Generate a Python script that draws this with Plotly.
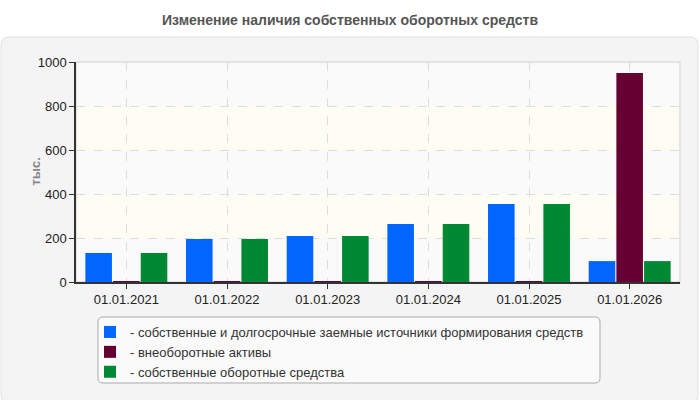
import plotly.graph_objects as go

categories = ["01.01.2021", "01.01.2022", "01.01.2023", "01.01.2024", "01.01.2025", "01.01.2026"]
own_longterm = [132, 195, 209, 264, 355, 95]
noncurrent = [4, 4, 4, 4, 4, 950]
own_working = [132, 195, 209, 264, 355, 95]
series_names = [
    "- собственные и долгосрочные заемные источники формирования средств",
    "- внеоборотные активы",
    "- собственные оборотные средства",
]
colors = ["#0066ff", "#660033", "#008833"]

W, H = 700, 400
L, R, T, B = 76, 680, 62, 282
pw, ph = R - L, B - T


def px2x(px):
    return (px - L) / pw


def py2y(py):
    return (B - py) / ph


def rrect(x0, y0, x1, y1, r):
    # pixel coords -> paper path with rounded corners
    def P(x, y):
        return f"{px2x(x):.5f},{py2y(y):.5f}"
    return (f"M {P(x0 + r, y0)} L {P(x1 - r, y0)} Q {P(x1, y0)} {P(x1, y0 + r)} "
            f"L {P(x1, y1 - r)} Q {P(x1, y1)} {P(x1 - r, y1)} L {P(x0 + r, y1)} "
            f"Q {P(x0, y1)} {P(x0, y1 - r)} L {P(x0, y0 + r)} Q {P(x0, y0)} {P(x0 + r, y0)} Z")


fig = go.Figure()
for name, vals, c in zip(series_names, [own_longterm, noncurrent, own_working], colors):
    fig.add_trace(go.Bar(x=categories, y=vals, name=name, marker=dict(color=c, line=dict(width=0))))

shapes = [
    dict(type="path", xref="paper", yref="paper", path=rrect(1, 37, 698, 403, 8),
         fillcolor="#f4f4f4", line=dict(color="#e2e2e2", width=1), layer="below"),
    dict(type="rect", xref="paper", yref="paper", x0=0, x1=1, y0=0, y1=1,
         fillcolor="#fafafa", line=dict(width=0), layer="below"),
    dict(type="rect", xref="paper", yref="y", x0=0, x1=1, y0=200, y1=400,
         fillcolor="#fdfdf4", line=dict(width=0), layer="below"),
    dict(type="rect", xref="paper", yref="y", x0=0, x1=1, y0=600, y1=800,
         fillcolor="#fdfdf4", line=dict(width=0), layer="below"),
    dict(type="rect", xref="paper", yref="paper", x0=0, x1=1, y0=0, y1=1,
         fillcolor="rgba(0,0,0,0)", line=dict(color="#dddddd", width=1.5), layer="below"),
    dict(type="path", xref="paper", yref="paper", path=rrect(98, 317, 600, 383, 5),
         fillcolor="#fafafa", line=dict(color="#aaaaaa", width=1), layer="below"),
]

fig.update_layout(
    width=W, height=H,
    margin=dict(l=L, r=W - R, t=T, b=H - B),
    paper_bgcolor="white",
    plot_bgcolor="rgba(0,0,0,0)",
    font=dict(family="Liberation Sans, Arial, sans-serif", size=13, color="#222222"),
    title=dict(text="<b>Изменение наличия собственных оборотных средств</b>",
               x=0.5, xanchor="center", y=1 - 20 / H, yanchor="middle",
               font=dict(size=14, color="#555555")),
    barmode="group", bargap=0.175, bargroupgap=0.04,
    showlegend=True,
    legend=dict(x=px2x(90), xanchor="left", y=py2y(317), yanchor="top",
                bgcolor="rgba(0,0,0,0)", borderwidth=0,
                font=dict(size=13, color="#333333"), tracegroupgap=0,
                itemsizing="constant"),
    shapes=shapes,
    annotations=[dict(text="<b>тыс.</b>", xref="paper", yref="paper", x=px2x(25), y=0.5,
                      textangle=-90, showarrow=False, font=dict(size=13, color="#888888"))],
)
fig.update_xaxes(showline=True, linecolor="#333333", linewidth=1.5, ticks="outside",
                 ticklen=5, tickcolor="#333333", showgrid=True, gridcolor="#dddddd",
                 griddash="dash", gridwidth=1, tickfont=dict(size=13, color="#222222"))
fig.update_yaxes(range=[0, 1000], dtick=200, showline=True, linecolor="#333333", linewidth=1.5,
                 ticks="outside", ticklen=5, tickcolor="#333333", showgrid=True,
                 gridcolor="#dddddd", griddash="dash", gridwidth=1, zeroline=False,
                 tickfont=dict(size=13, color="#222222"))

fig.write_html("out.html")
